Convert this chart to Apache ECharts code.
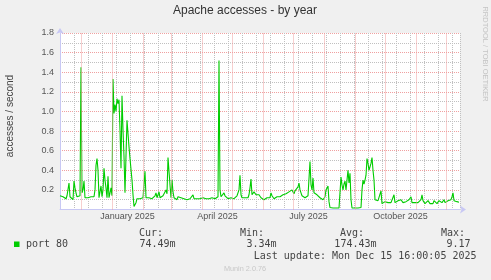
<!DOCTYPE html>
<html><head><meta charset="utf-8">
<script src="https://cdn.jsdelivr.net/npm/echarts@6/dist/echarts.min.js"></script>
<style>html,body{margin:0;padding:0;background:#f0f0f0}#c{width:491px;height:280px}</style>
</head><body><div id="c"></div>
<script>
const DAY = 86400000;
const startDate = Date.UTC(2024, 10, 10);   // left edge of the graph / first daily sample
const spanDays = 400;                        // graph covers 400 days
const endDate = startDate + spanDays * DAY;
// daily average accesses / second (port 80)
const accesses = [
  0.14,0.16,0.12,0.13,0.12,0.11,0.11,0.14,0.12,0.27,
  0.13,0.12,0.11,0.10,0.29,0.22,0.17,0.13,0.14,0.13,
  0.14,1.45,0.17,0.20,0.29,0.12,0.12,0.13,0.12,0.12,
  0.12,0.13,0.12,0.14,0.13,0.20,0.45,0.52,0.40,0.12,
  0.10,0.24,0.13,0.20,0.42,0.30,0.22,0.12,0.34,0.12,
  0.17,0.22,0.14,1.33,0.98,1.07,1.00,1.13,1.08,1.12,
  0.81,0.42,1.16,0.81,0.54,0.17,0.55,0.91,0.92,0.64,
  0.52,0.50,0.30,0.15,0.03,0.05,0.07,0.11,0.09,0.10,
  0.11,0.12,0.10,0.12,0.13,0.39,0.12,0.11,0.12,0.12,
  0.13,0.12,0.11,0.13,0.12,0.14,0.17,0.12,0.13,0.18,
  0.12,0.13,0.12,0.14,0.12,0.13,0.20,0.16,0.53,0.51,
  0.25,0.12,0.30,0.18,0.12,0.11,0.12,0.10,0.13,0.12,
  0.11,0.12,0.10,0.12,0.11,0.12,0.13,0.10,0.11,0.12,
  0.11,0.10,0.12,0.15,0.11,0.09,0.10,0.11,0.12,0.12,
  0.11,0.12,0.13,0.12,0.14,0.12,0.11,0.13,0.12,0.11,
  0.12,0.11,0.12,0.13,0.12,0.11,0.12,0.12,0.13,1.52,
  0.20,0.13,0.12,0.11,0.17,0.14,0.12,0.15,0.11,0.12,
  0.11,0.12,0.10,0.12,0.11,0.13,0.12,0.14,0.12,0.20,
  0.35,0.15,0.12,0.13,0.11,0.12,0.14,0.13,0.12,0.15,
  0.22,0.31,0.15,0.14,0.18,0.17,0.15,0.16,0.13,0.15,
  0.14,0.12,0.10,0.11,0.10,0.11,0.11,0.12,0.11,0.13,
  0.12,0.17,0.14,0.12,0.11,0.12,0.11,0.13,0.14,0.12,
  0.13,0.14,0.13,0.15,0.14,0.15,0.16,0.17,0.15,0.18,
  0.19,0.17,0.20,0.19,0.16,0.19,0.20,0.20,0.23,0.27,
  0.20,0.17,0.14,0.13,0.12,0.12,0.13,0.12,0.14,0.16,
  0.49,0.25,0.20,0.32,0.17,0.16,0.17,0.15,0.14,0.13,
  0.12,0.11,0.12,0.10,0.10,0.13,0.20,0.22,0.24,0.08,
  0.02,0.015,0.015,0.015,0.015,0.015,0.015,0.015,0.015,0.015,
  0.03,0.33,0.25,0.20,0.26,0.29,0.20,0.18,0.40,0.27,
  0.37,0.10,0.015,0.015,0.015,0.015,0.015,0.015,0.015,0.015,
  0.015,0.02,0.20,0.30,0.26,0.30,0.35,0.52,0.47,0.40,
  0.38,0.47,0.53,0.40,0.30,0.10,0.09,0.08,0.09,0.08,
  0.09,0.19,0.06,0.06,0.07,0.08,0.07,0.06,0.07,0.07,
  0.08,0.07,0.08,0.07,0.15,0.07,0.08,0.08,0.09,0.08,
  0.09,0.10,0.12,0.07,0.08,0.09,0.08,0.09,0.08,0.10,
  0.11,0.13,0.07,0.06,0.08,0.07,0.08,0.09,0.07,0.08,
  0.09,0.10,0.15,0.09,0.07,0.06,0.07,0.08,0.09,0.07,
  0.06,0.08,0.07,0.06,0.09,0.07,0.08,0.06,0.07,0.09,
  0.07,0.08,0.07,0.09,0.10,0.07,0.06,0.08,0.09,0.08,
  0.09,0.10,0.13,0.17,0.09,0.08,0.09,0.08,0.07,0.0745
];
const monthLabels = ['January 2025','April 2025','July 2025','October 2025'];
const monthLabelDates = [Date.UTC(2025,0,16,12), Date.UTC(2025,3,16,12), Date.UTC(2025,6,16,12), Date.UTC(2025,9,16,12)];
const monthStarts = [Date.UTC(2024,11,1),Date.UTC(2025,0,1),Date.UTC(2025,1,1),Date.UTC(2025,2,1),Date.UTC(2025,3,1),Date.UTC(2025,4,1),Date.UTC(2025,5,1),Date.UTC(2025,6,1),Date.UTC(2025,7,1),Date.UTC(2025,8,1),Date.UTC(2025,9,1),Date.UTC(2025,10,1),Date.UTC(2025,11,1)];
const minorGridDays = 14;
const statLabels = ['Cur:','Min:','Avg:','Max:'];
const statValues = ['74.49m','3.34m','174.43m','9.17'];
const seriesName = 'port 80';
const lastUpdate = 'Last update: Mon Dec 15 16:00:05 2025';

const seriesData = accesses.map((v, i) => [startDate + i * DAY, v]);

const gray = {color:'#c0c0c0', width:1, type:[1,1], opacity:1};
const red = {color:'#f0a0a0', width:1, type:[1,1], opacity:1};
const sans = 'Liberation Sans, Arial, sans-serif';
const mono = 'DejaVu Sans Mono, monospace';

const chart = echarts.init(document.getElementById('c'), null, {renderer:'canvas'});
const graphics = [
  {type:'text', x:245, y:11, style:{text:'Apache accesses - by year', font:'12px '+sans, fill:'#333', align:'center', verticalAlign:'middle'}},
  {type:'text', x:10, y:116, rotation:Math.PI/2, style:{text:'accesses / second', font:'10px '+sans, fill:'#444', align:'center', verticalAlign:'middle'}},
  {type:'text', x:485, y:54, rotation:-Math.PI/2, style:{text:'RRDTOOL / TOBI OETIKER', font:'7.5px '+sans, fill:'#c4c4c4', align:'center', verticalAlign:'middle'}},
  {type:'rect', shape:{x:14, y:241.5, width:5.5, height:5.5}, style:{fill:'#00cc00'}},
  {type:'text', x:26, y:244.5, style:{text:seriesName, font:'10px '+mono, fill:'#444', verticalAlign:'middle'}},
  {type:'text', x:476.5, y:256.5, style:{text:lastUpdate, font:'10px '+mono, fill:'#444', align:'right', verticalAlign:'middle'}},
  {type:'text', x:245, y:268.5, style:{text:'Munin 2.0.76', font:'7.3px '+sans, fill:'#c8c8c8', align:'center', verticalAlign:'middle'}}
];
const labelX = [139, 240, 340, 441];
const valueRight = [175.5, 276.5, 376.5, 470.5];
statLabels.forEach((s, i) => graphics.push({type:'text', x:labelX[i], y:233.5, style:{text:s, font:'10px '+mono, fill:'#444', verticalAlign:'middle'}}));
statValues.forEach((s, i) => graphics.push({type:'text', x:valueRight[i], y:244.5, style:{text:s, font:'10px '+mono, fill:'#444', align:'right', verticalAlign:'middle'}}));

chart.setOption({
  animation:false,
  backgroundColor:'#f0f0f0',
  grid:{left:60, right:31, top:33, bottom:70.5, show:true, backgroundColor:'#ffffff', borderWidth:0},
  xAxis:[
    {type:'value', min:startDate, max:endDate,
      axisLine:{show:true, lineStyle:{color:'#c8c8f4', width:1}, symbol:['none','arrow'], symbolSize:[6,6], symbolOffset:[0,6]},
      axisTick:{show:false}, splitLine:{show:false},
      axisLabel:{customValues:monthLabelDates, margin:3, fontSize:9, fontFamily:sans, color:'#555',
        formatter:(v) => { const k = monthLabelDates.indexOf(v); return k >= 0 ? monthLabels[k] : ''; }}
    },
    {type:'value', min:0, max:spanDays, interval:minorGridDays, position:'bottom',
      axisLine:{show:false}, axisTick:{show:false}, axisLabel:{show:false},
      splitLine:{show:true, lineStyle:gray}
    }
  ],
  yAxis:[
    {type:'value', min:0, max:1.8, interval:0.1,
      axisLine:{show:true, lineStyle:{color:'#c8c8f4', width:1}, symbol:['none','arrow'], symbolSize:[6,6], symbolOffset:[0,5]},
      axisTick:{show:false}, splitLine:{show:true, lineStyle:gray},
      axisLabel:{margin:6, fontSize:9, fontFamily:sans, color:'#555',
        formatter:(v) => { const k = Math.round(v * 10); return (k > 0 && k % 2 === 0) ? (k / 10).toFixed(1) : ''; }}
    },
    {type:'value', min:0, max:1.8, interval:0.2, position:'left',
      axisLine:{show:false}, axisTick:{show:false}, axisLabel:{show:false},
      splitLine:{show:true, lineStyle:red}
    }
  ],
  series:[
    {name:'grid', type:'line', data:[], z:1, silent:true,
      markLine:{silent:true, symbol:['none','none'], label:{show:false}, lineStyle:red, animation:false,
        data:monthStarts.map(t => ({xAxis:t, lineStyle:red}))}},
    {name:seriesName, type:'line', data:seriesData, z:3, showSymbol:false, symbol:'none',
      lineStyle:{color:'#00cc00', width:1.1}, itemStyle:{color:'#00cc00'}}
  ],
  graphic:graphics
});
</script></body></html>
